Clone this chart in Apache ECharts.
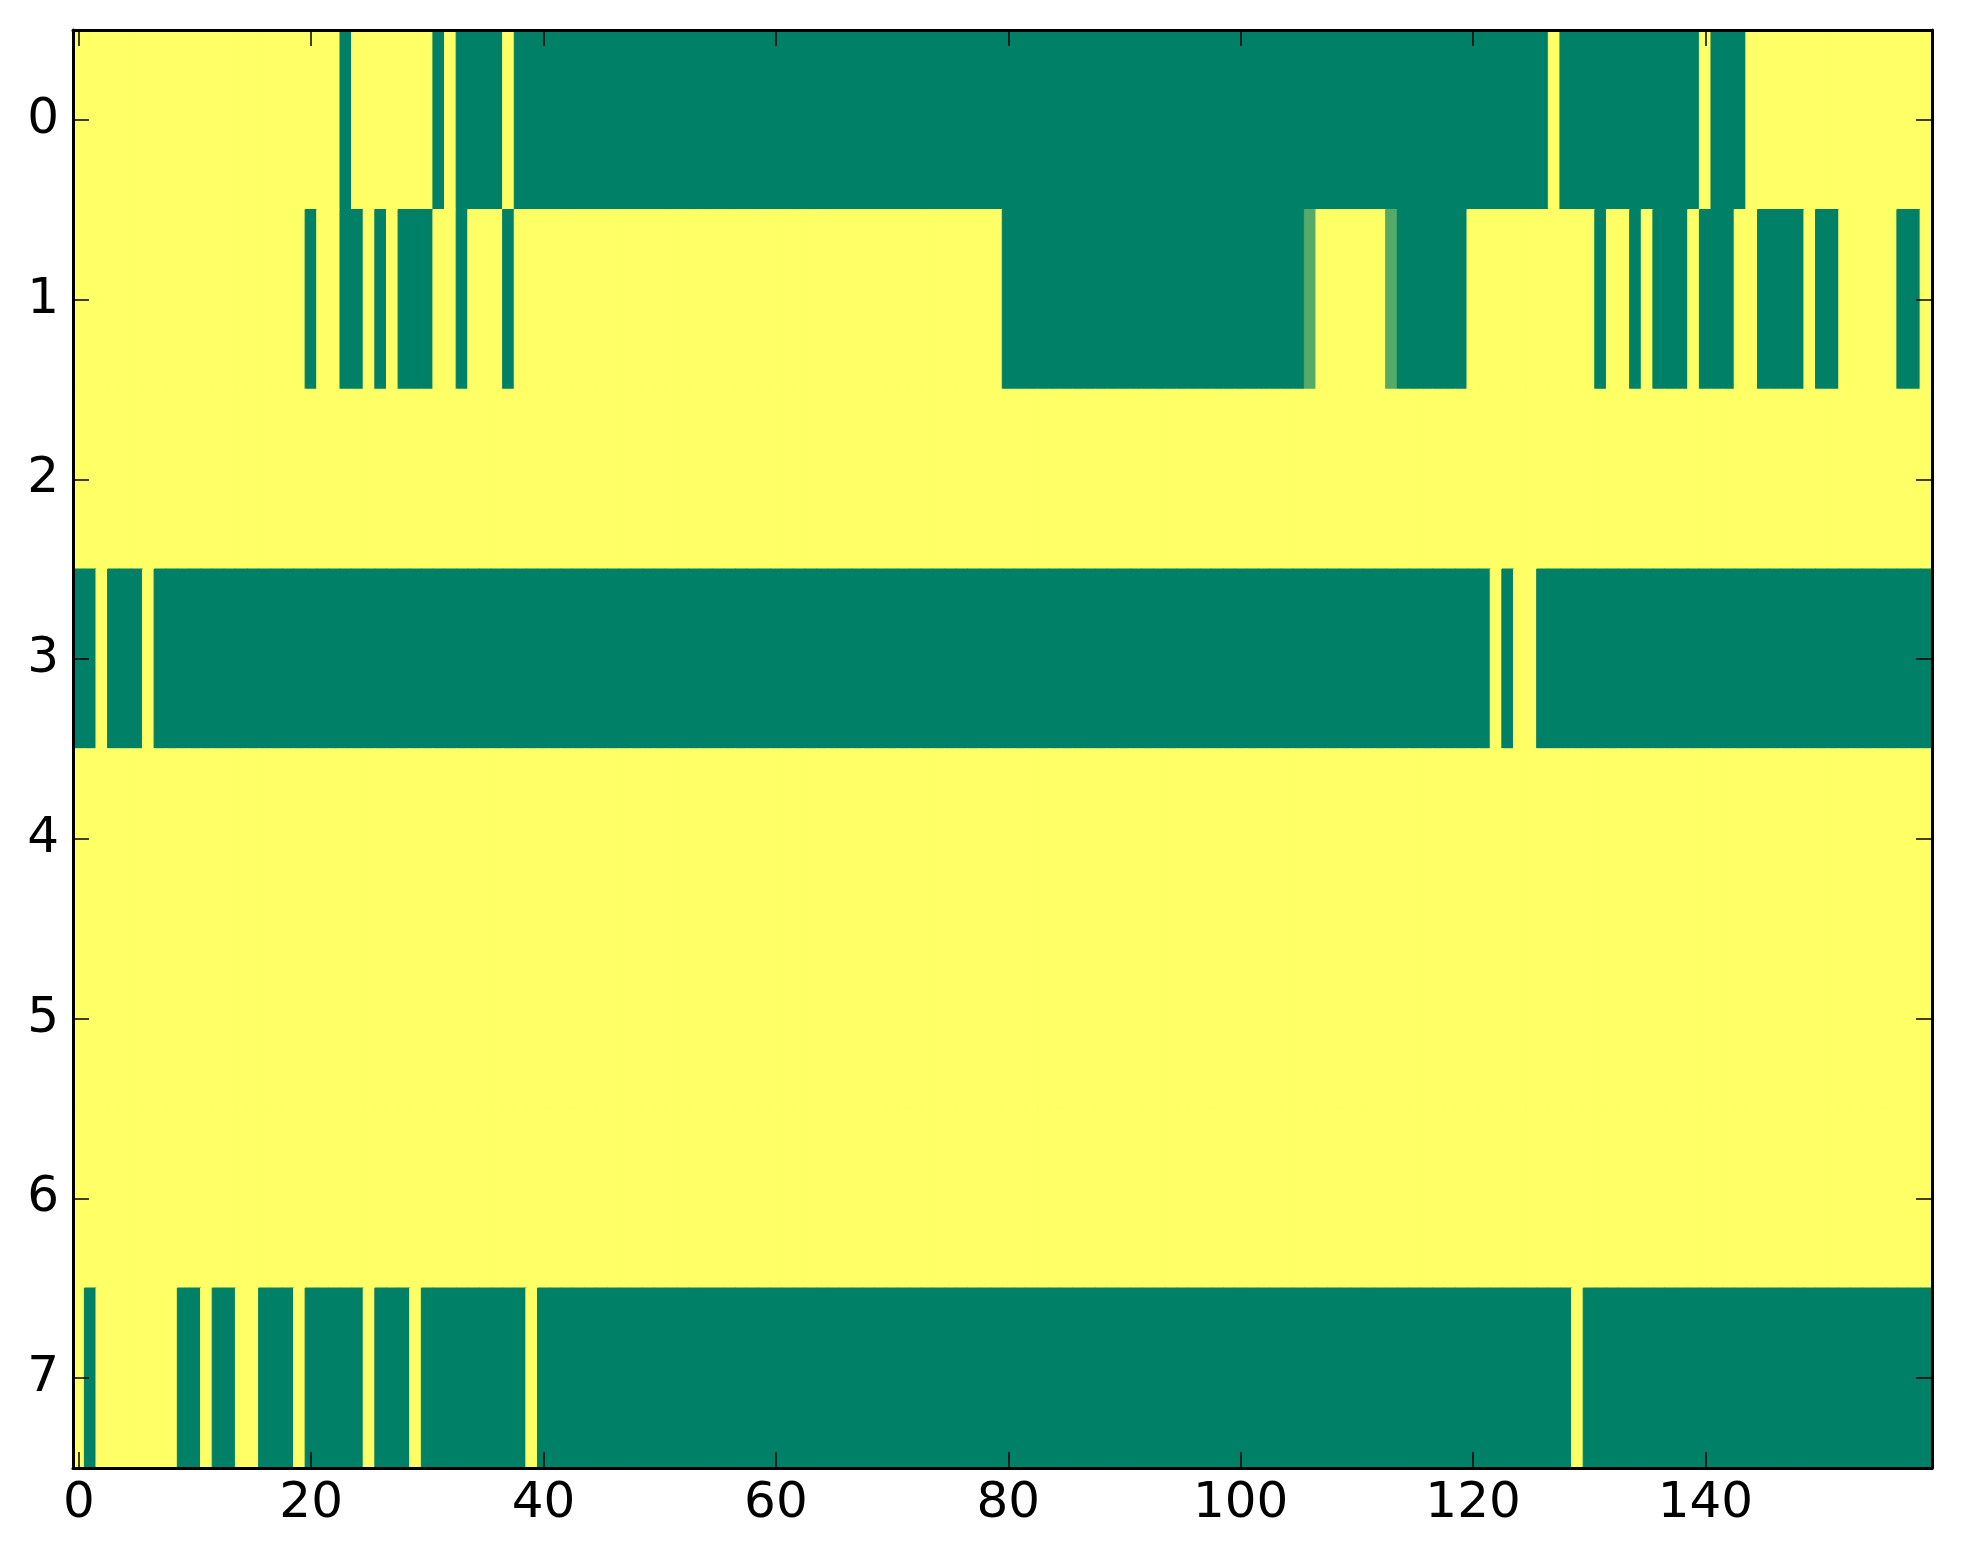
<!DOCTYPE html>
<html>
<head>
<meta charset="utf-8">
<script src="https://cdn.jsdelivr.net/npm/echarts@6/dist/echarts.min.js"></script>
<style>
html,body{margin:0;padding:0;background:#fff;}
#chart{width:1963px;height:1564px;}
</style>
</head>
<body>
<div id="chart"></div>
<script>
// Row labels (y categories), top to bottom
const rowLabels = ['0','1','2','3','4','5','6','7'];
// Tick labels shown on the x axis
const xTickLabels = ['0','20','40','60','80','100','120','140'];
const xTickStep = 20;
const nCols = 160;
// Colour scale end points (matplotlib "summer")
const colorRange = ['#008066', '#ffff66'];

// Cell values per row (0 = green, 1 = yellow), 160 columns each
const row0 = [
1,1,1,1,1,1,1,1,1,1,1,1,1,1,1,1,1,1,1,1,
1,1,1,0,1,1,1,1,1,1,1,0,1,0,0,0,0,1,0,0,
0,0,0,0,0,0,0,0,0,0,0,0,0,0,0,0,0,0,0,0,
0,0,0,0,0,0,0,0,0,0,0,0,0,0,0,0,0,0,0,0,
0,0,0,0,0,0,0,0,0,0,0,0,0,0,0,0,0,0,0,0,
0,0,0,0,0,0,0,0,0,0,0,0,0,0,0,0,0,0,0,0,
0,0,0,0,0,0,0,1,0,0,0,0,0,0,0,0,0,0,0,0,
1,0,0,0,1,1,1,1,1,1,1,1,1,1,1,1,1,1,1,1];
const row1 = [
1,1,1,1,1,1,1,1,1,1,1,1,1,1,1,1,1,1,1,1,
0,1,1,0,0,1,0,1,0,0,0,1,1,0,1,1,1,0,1,1,
1,1,1,1,1,1,1,1,1,1,1,1,1,1,1,1,1,1,1,1,
1,1,1,1,1,1,1,1,1,1,1,1,1,1,1,1,1,1,1,1,
0,0,0,0,0,0,0,0,0,0,0,0,0,0,0,0,0,0,0,0,
0,0,0,0,0,0,0.33,1,1,1,1,1,1,0.33,0,0,0,0,0,0,
1,1,1,1,1,1,1,1,1,1,1,0,1,1,0,1,0,0,0,1,
0,0,0,1,1,0,0,0,0,1,0,0,1,1,1,1,1,0,0,1];
const row2 = [
1,1,1,1,1,1,1,1,1,1,1,1,1,1,1,1,1,1,1,1,
1,1,1,1,1,1,1,1,1,1,1,1,1,1,1,1,1,1,1,1,
1,1,1,1,1,1,1,1,1,1,1,1,1,1,1,1,1,1,1,1,
1,1,1,1,1,1,1,1,1,1,1,1,1,1,1,1,1,1,1,1,
1,1,1,1,1,1,1,1,1,1,1,1,1,1,1,1,1,1,1,1,
1,1,1,1,1,1,1,1,1,1,1,1,1,1,1,1,1,1,1,1,
1,1,1,1,1,1,1,1,1,1,1,1,1,1,1,1,1,1,1,1,
1,1,1,1,1,1,1,1,1,1,1,1,1,1,1,1,1,1,1,1];
const row3 = [
0,0,1,0,0,0,1,0,0,0,0,0,0,0,0,0,0,0,0,0,
0,0,0,0,0,0,0,0,0,0,0,0,0,0,0,0,0,0,0,0,
0,0,0,0,0,0,0,0,0,0,0,0,0,0,0,0,0,0,0,0,
0,0,0,0,0,0,0,0,0,0,0,0,0,0,0,0,0,0,0,0,
0,0,0,0,0,0,0,0,0,0,0,0,0,0,0,0,0,0,0,0,
0,0,0,0,0,0,0,0,0,0,0,0,0,0,0,0,0,0,0,0,
0,0,1,0,1,1,0,0,0,0,0,0,0,0,0,0,0,0,0,0,
0,0,0,0,0,0,0,0,0,0,0,0,0,0,0,0,0,0,0,0];
const row4 = [
1,1,1,1,1,1,1,1,1,1,1,1,1,1,1,1,1,1,1,1,
1,1,1,1,1,1,1,1,1,1,1,1,1,1,1,1,1,1,1,1,
1,1,1,1,1,1,1,1,1,1,1,1,1,1,1,1,1,1,1,1,
1,1,1,1,1,1,1,1,1,1,1,1,1,1,1,1,1,1,1,1,
1,1,1,1,1,1,1,1,1,1,1,1,1,1,1,1,1,1,1,1,
1,1,1,1,1,1,1,1,1,1,1,1,1,1,1,1,1,1,1,1,
1,1,1,1,1,1,1,1,1,1,1,1,1,1,1,1,1,1,1,1,
1,1,1,1,1,1,1,1,1,1,1,1,1,1,1,1,1,1,1,1];
const row5 = [
1,1,1,1,1,1,1,1,1,1,1,1,1,1,1,1,1,1,1,1,
1,1,1,1,1,1,1,1,1,1,1,1,1,1,1,1,1,1,1,1,
1,1,1,1,1,1,1,1,1,1,1,1,1,1,1,1,1,1,1,1,
1,1,1,1,1,1,1,1,1,1,1,1,1,1,1,1,1,1,1,1,
1,1,1,1,1,1,1,1,1,1,1,1,1,1,1,1,1,1,1,1,
1,1,1,1,1,1,1,1,1,1,1,1,1,1,1,1,1,1,1,1,
1,1,1,1,1,1,1,1,1,1,1,1,1,1,1,1,1,1,1,1,
1,1,1,1,1,1,1,1,1,1,1,1,1,1,1,1,1,1,1,1];
const row6 = [
1,1,1,1,1,1,1,1,1,1,1,1,1,1,1,1,1,1,1,1,
1,1,1,1,1,1,1,1,1,1,1,1,1,1,1,1,1,1,1,1,
1,1,1,1,1,1,1,1,1,1,1,1,1,1,1,1,1,1,1,1,
1,1,1,1,1,1,1,1,1,1,1,1,1,1,1,1,1,1,1,1,
1,1,1,1,1,1,1,1,1,1,1,1,1,1,1,1,1,1,1,1,
1,1,1,1,1,1,1,1,1,1,1,1,1,1,1,1,1,1,1,1,
1,1,1,1,1,1,1,1,1,1,1,1,1,1,1,1,1,1,1,1,
1,1,1,1,1,1,1,1,1,1,1,1,1,1,1,1,1,1,1,1];
const row7 = [
1,0,1,1,1,1,1,1,1,0,0,1,0,0,1,1,0,0,0,1,
0,0,0,0,0,1,0,0,0,1,0,0,0,0,0,0,0,0,0,1,
0,0,0,0,0,0,0,0,0,0,0,0,0,0,0,0,0,0,0,0,
0,0,0,0,0,0,0,0,0,0,0,0,0,0,0,0,0,0,0,0,
0,0,0,0,0,0,0,0,0,0,0,0,0,0,0,0,0,0,0,0,
0,0,0,0,0,0,0,0,0,0,0,0,0,0,0,0,0,0,0,0,
0,0,0,0,0,0,0,0,0,1,0,0,0,0,0,0,0,0,0,0,
0,0,0,0,0,0,0,0,0,0,0,0,0,0,0,0,0,0,0,0];

const rows = [row0,row1,row2,row3,row4,row5,row6,row7];

// Build library-ready structures
const xCategories = [];
for (let c = 0; c < nCols; c++) xCategories.push(String(c));
const cells = [];
rows.forEach((row, r) => row.forEach((v, c) => {
  const col = echarts.color.lerp(v, colorRange);
  cells.push({value: [c, r, v], itemStyle: {color: col, borderColor: col, borderWidth: 1}});
}));

const isXTick = (i) => i % xTickStep === 0;
const labelFont = {fontFamily: 'DejaVu Sans', fontSize: 50, color: '#000'};
const lineStyleAxis = {color: '#000', width: 3};
const tickStyle = {color: '#000', width: 1.5};

const chart = echarts.init(document.getElementById('chart'), null, {renderer: 'canvas'});
chart.setOption({
  animation: false,
  backgroundColor: '#fff',
  grid: {left: 73, right: 31, top: 30, bottom: 96, outerBoundsMode: 'none'},
  xAxis: [
    {
      type: 'category', data: xCategories, position: 'bottom', z: 10,
      boundaryGap: true,
      axisLine: {show: true, lineStyle: lineStyleAxis},
      axisTick: {show: true, inside: true, length: 16, alignWithLabel: true, interval: (i) => isXTick(i), lineStyle: tickStyle},
      axisLabel: Object.assign({show: true, margin: 11, interval: (i) => isXTick(i),
        formatter: (v, i) => xTickLabels[i / xTickStep]}, labelFont),
      splitLine: {show: false}
    },
    {
      type: 'category', data: xCategories, position: 'top', z: 10,
      boundaryGap: true,
      axisLine: {show: true, lineStyle: lineStyleAxis},
      axisTick: {show: true, inside: true, length: 16, alignWithLabel: true, interval: (i) => isXTick(i), lineStyle: tickStyle},
      axisLabel: {show: false},
      splitLine: {show: false}
    }
  ],
  yAxis: [
    {
      type: 'category', data: rowLabels, inverse: true, position: 'left', z: 10,
      boundaryGap: true,
      axisLine: {show: true, lineStyle: lineStyleAxis},
      axisTick: {show: true, inside: true, length: 16, alignWithLabel: true, lineStyle: tickStyle},
      axisLabel: Object.assign({show: true, margin: 14}, labelFont),
      splitLine: {show: false}
    },
    {
      type: 'category', data: rowLabels, inverse: true, position: 'right', z: 10,
      boundaryGap: true,
      axisLine: {show: true, lineStyle: lineStyleAxis},
      axisTick: {show: true, inside: true, length: 16, alignWithLabel: true, lineStyle: tickStyle},
      axisLabel: {show: false},
      splitLine: {show: false}
    }
  ],
  series: [{
    type: 'heatmap',
    xAxisIndex: 0, yAxisIndex: 0,
    data: cells,
    emphasis: {disabled: true},
    progressive: 0
  }]
});
</script>
</body>
</html>
